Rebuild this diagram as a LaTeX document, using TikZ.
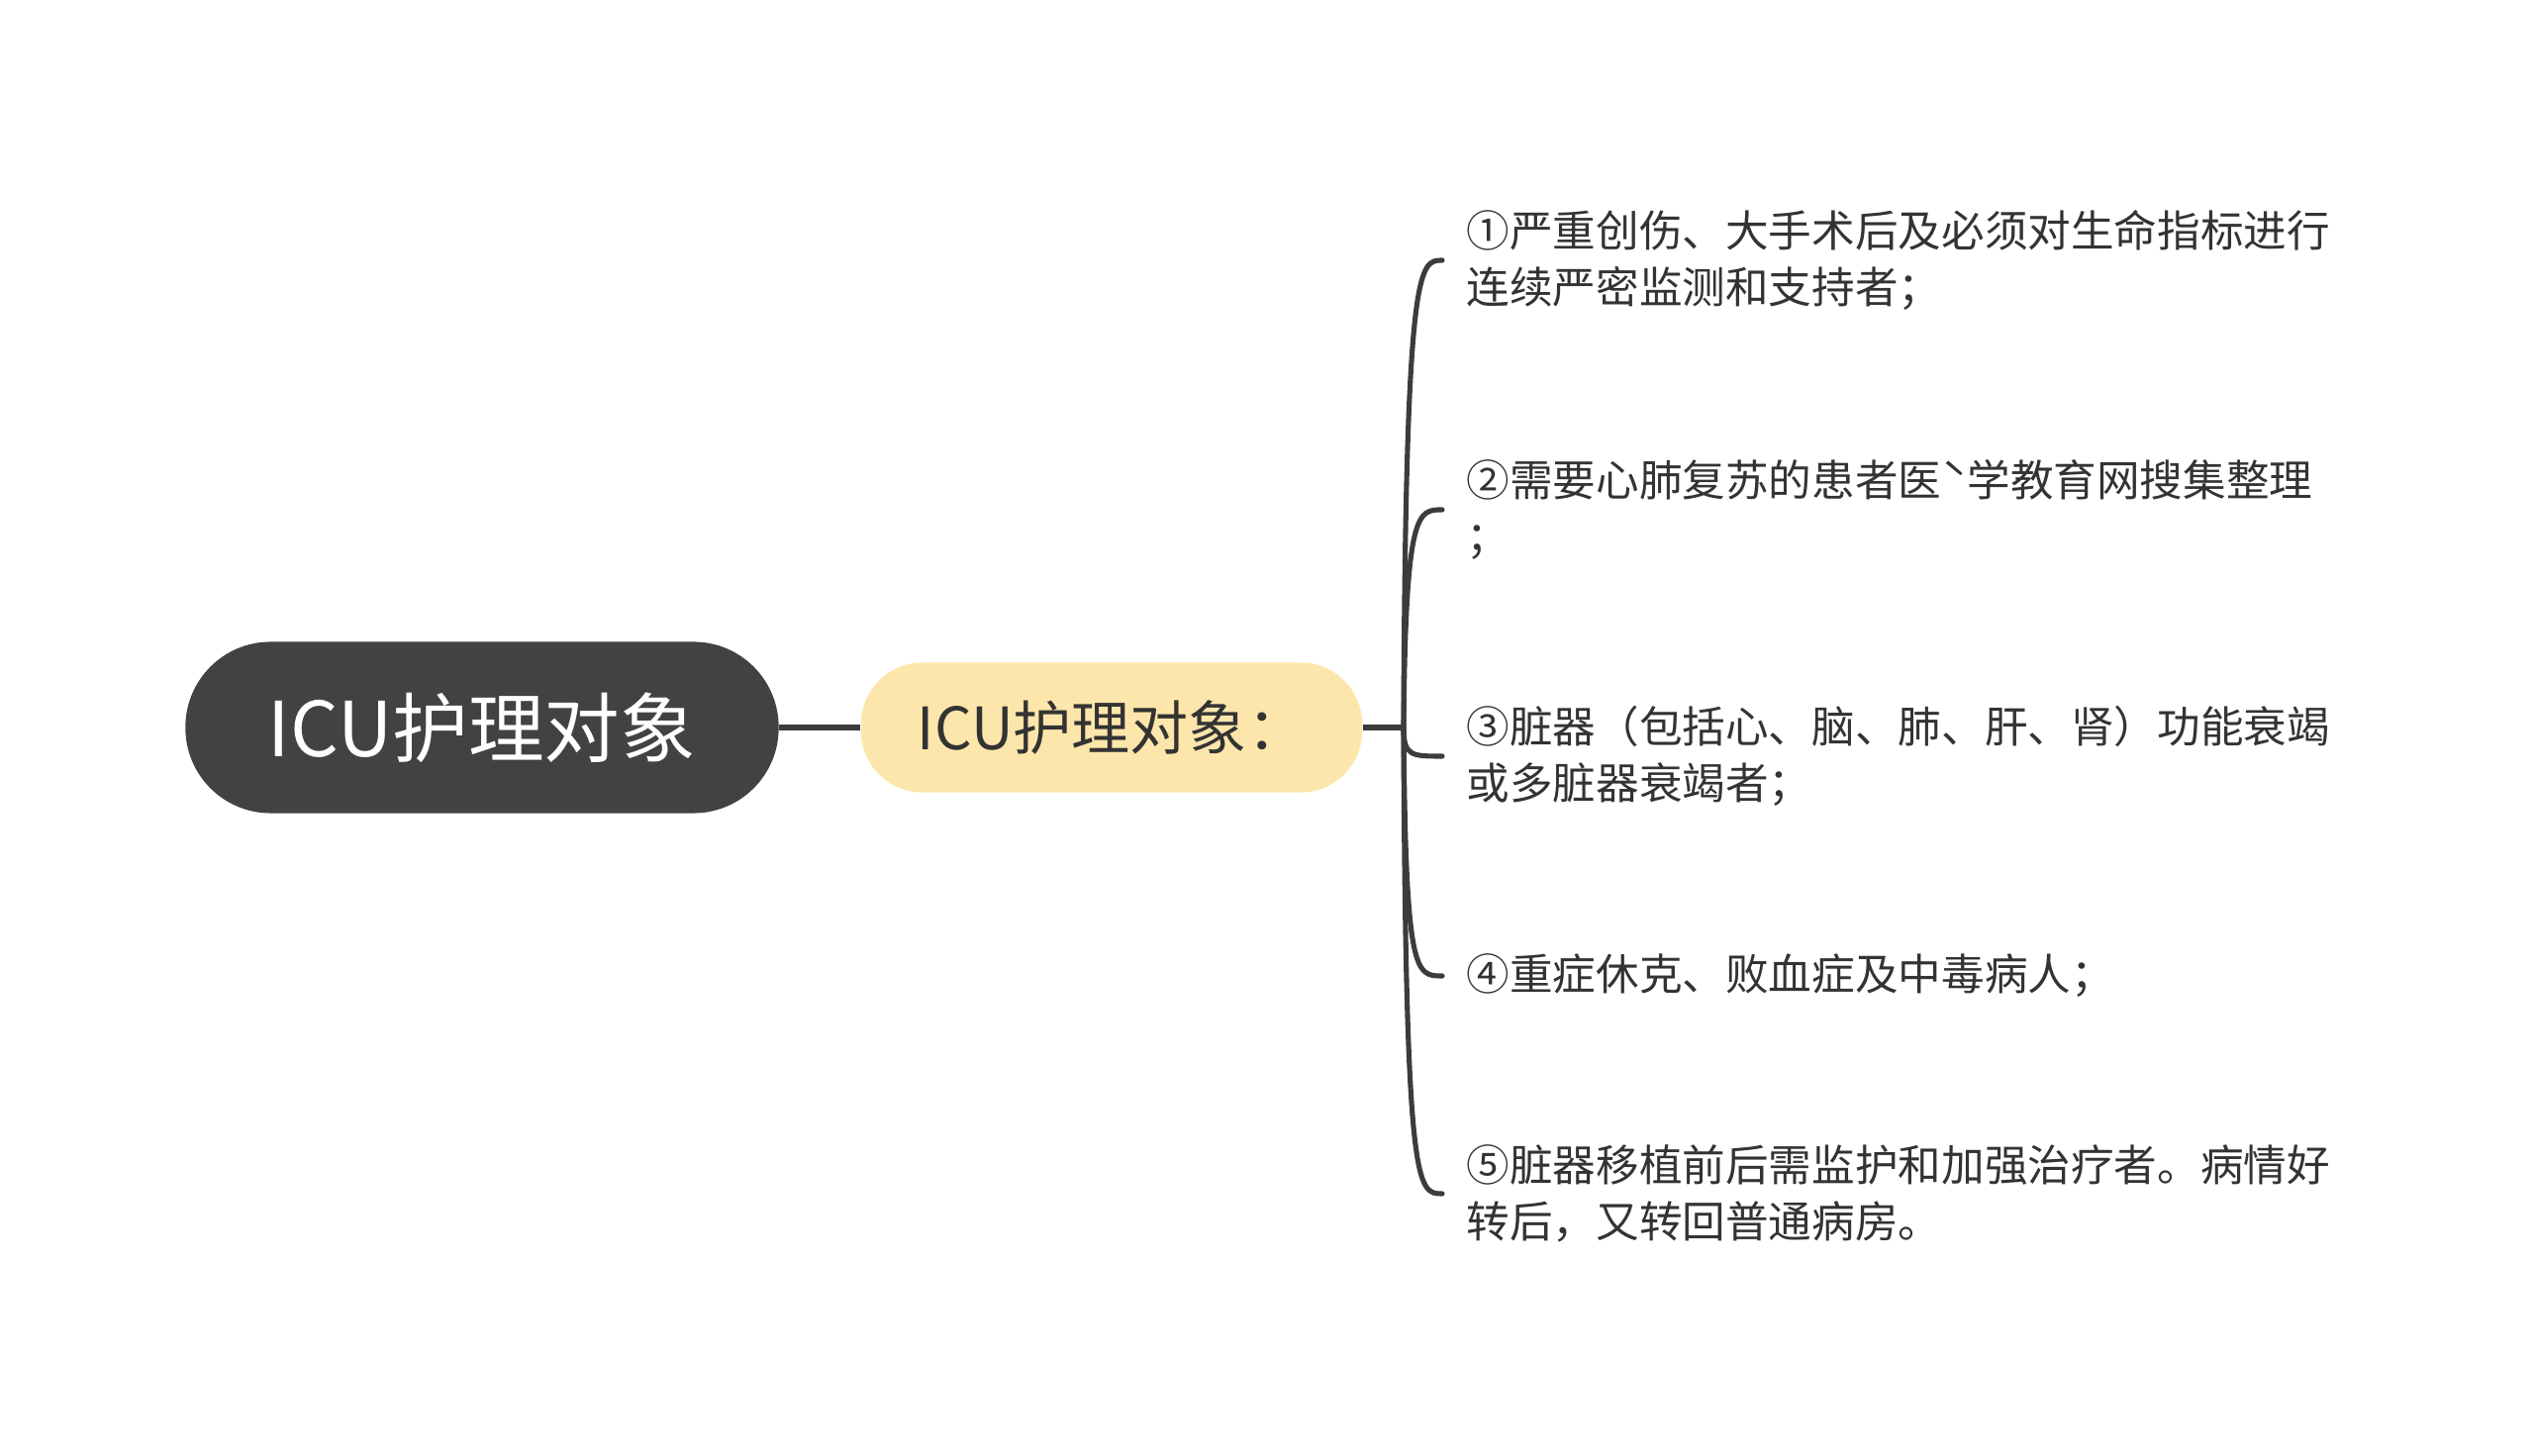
\documentclass[tikz,border=0pt]{standalone}
\usepackage{fontspec}
\setmainfont{Noto Sans CJK SC}
\definecolor{rootfill}{HTML}{424242}
\definecolor{midfill}{HTML}{FDE6AB}
\definecolor{linec}{HTML}{3C3C3C}
\definecolor{txt}{HTML}{333333}
\begin{document}
\begin{tikzpicture}[x=0.01cm,y=-0.01cm,
  rootbox/.style={draw=none,fill=rootfill,text=white,rounded corners=0.86cm,minimum width=5.99cm,minimum height=1.73cm,inner sep=0pt,font=\fontsize{21.8}{26}\selectfont},
  midbox/.style={draw=none,fill=midfill,text=txt,rounded corners=0.62cm,minimum width=5.06cm,minimum height=1.31cm,inner sep=0pt,font=\fontsize{16.8}{20}\selectfont},
  leaf/.style={anchor=west,align=left,text=txt,inner xsep=0.24cm,inner ysep=0pt,font=\fontsize{12.4}{16.2}\selectfont},
  conn/.style={draw=linec,line width=1.45pt,line cap=round}]
\useasboundingbox (0,0) rectangle (2560,1471);
\fill[white] (0,0) rectangle (2560,1471);
\node[rootbox] (root) at (487,735) {ICU护理对象};
\node[midbox] (mid) at (1123,735) {ICU护理对象：};
\coordinate (j) at (1418,735);
\node[leaf] (l1) at (1457,263) {①严重创伤、大手术后及必须对生命指标进行\\连续严密监测和支持者；};
\node[leaf] (l2) at (1457,515) {②需要心肺复苏的患者医ˋ学教育网搜集整理\\；};
\node[leaf] (l3) at (1457,764) {③脏器（包括心、脑、肺、肝、肾）功能衰竭\\或多脏器衰竭者；};
\node[leaf] (l4) at (1457,986) {④重症休克、败血症及中毒病人；};
\node[leaf] (l5) at (1457,1206) {⑤脏器移植前后需监护和加强治疗者。病情好\\转后，又转回普通病房。};
\draw[conn,line cap=butt] (root.east) -- (mid.west);
\draw[conn,line cap=butt] (mid.east) -- (j);
\draw[conn] (j) .. controls (1420,263) and (1434,263) .. (l1.west);
\draw[conn] (j) .. controls (1420,515) and (1432,515) .. (l2.west);
\draw[conn] (j) .. controls (1418,764) and (1426,764) .. (l3.west);
\draw[conn] (j) .. controls (1420,986) and (1430,986) .. (l4.west);
\draw[conn] (j) .. controls (1420,1206) and (1432,1206) .. (l5.west);
\end{tikzpicture}
\end{document}
